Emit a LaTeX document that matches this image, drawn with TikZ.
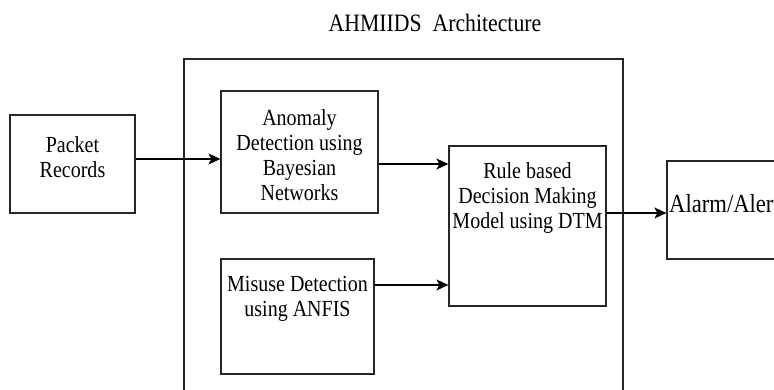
\documentclass[tikz,border=0pt]{standalone}
\usepackage{fontspec}
\setmainfont[FakeStretch=0.87]{Liberation Serif}
\usetikzlibrary{arrows.meta}
\tikzset{
  blockbox/.style={draw=black!85,line width=1.2pt,inner sep=0pt},
  blocktxt/.style={align=center,inner sep=0pt,font=\fontsize{23}{25}\selectfont},
  flowarr/.style={line width=1.3pt,-{Stealth[length=12pt,width=11pt,inset=3pt]}}
}
\begin{document}
\begin{tikzpicture}[x=1pt,y=-1pt]
    \useasboundingbox (0,0) rectangle (774,390);
    \clip (0,0) rectangle (774,390);
    \fill[white] (0,0) rectangle (774,390);
    \node[blocktxt,font=\fontsize{25}{27}\selectfont] (title) at (435,23) {AHMIIDS\ \ Architecture};
    % outer frame
    \node[blockbox,minimum width=439pt,minimum height=336pt] (frame) at (403.5,227) {};
    % boxes
    \node[blockbox,minimum width=125pt,minimum height=98pt] (packet) at (72.5,164) {};
    \node[blockbox,minimum width=157pt,minimum height=122pt] (anomaly) at (299.5,152) {};
    \node[blockbox,minimum width=153pt,minimum height=115pt] (misuse) at (297.5,316.5) {};
    \node[blockbox,minimum width=157pt,minimum height=160pt] (rule) at (527.5,226) {};
    \node[blockbox,minimum width=133pt,minimum height=98pt] (alarm) at (733.5,210) {};
    % texts
    \node[blocktxt] (packettxt) at (72.5,157) {Packet\\Records};
    \node[blocktxt] (anomalytxt) at (299.5,155.5) {Anomaly\\Detection using\\Bayesian\\Networks};
    \node[blocktxt] (misusetxt) at (297.5,299) {Misuse Detection\\using ANFIS};
    \node[blocktxt] (ruletxt) at (527.5,198) {Rule based\\Decision Making\\Model using DTM};
    \node[blocktxt,anchor=west,font=\fontsize{26}{28}\selectfont] (alarmtxt) at (669,204) {Alarm/Alert};
    % connectors
    \draw[flowarr] ([yshift=5pt]packet.east) -- ([yshift=5pt]packet.east -| anomaly.west);
    \draw[flowarr] ([yshift=-12pt]anomaly.east) -- ([yshift=-12pt]anomaly.east -| rule.west);
    \draw[flowarr] ([yshift=31.5pt]misuse.east) -- ([yshift=31.5pt]misuse.east -| rule.west);
    \draw[flowarr] ([yshift=13pt]rule.east) -- ([yshift=13pt]rule.east -| alarm.west);
\end{tikzpicture}
\end{document}
